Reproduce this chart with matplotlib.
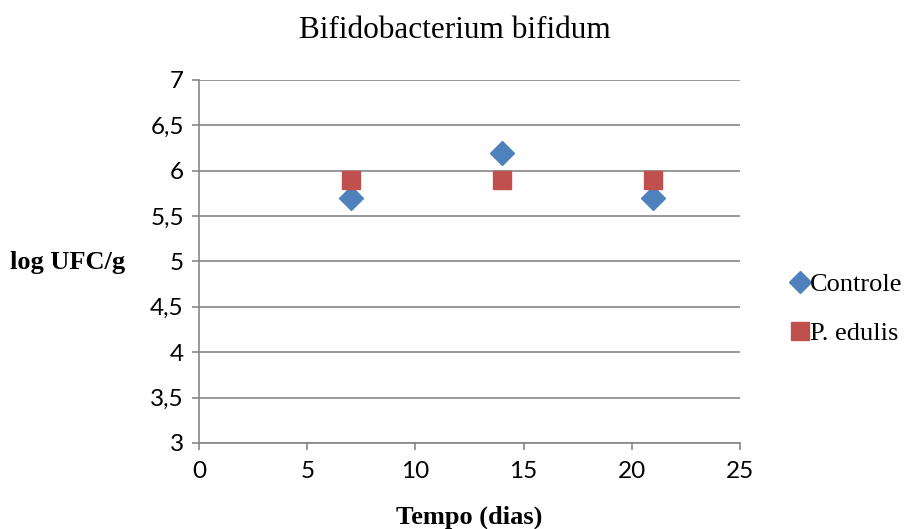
import matplotlib.pyplot as plt

# data
dias = [7, 14, 21]
controle = [5.7, 6.2, 5.7]
p_edulis = [5.9, 5.9, 5.9]

x_ticks = [0, 5, 10, 15, 20, 25]
y_ticks = [3, 3.5, 4, 4.5, 5, 5.5, 6, 6.5, 7]
y_labels = ['3', '3,5', '4', '4,5', '5', '5,5', '6', '6,5', '7']

fig = plt.figure(figsize=(9.09, 5.29), dpi=100)
ax = fig.add_axes([0.219, 0.1626, 0.595, 0.6864])

ax.plot(dias, controle, linestyle='none', marker='D', markersize=12,
        color='#4F81BD', label='Controle', zorder=3)
ax.plot(dias, p_edulis, linestyle='none', marker='s', markersize=13,
        color='#C0504D', label='P. edulis', zorder=3)

ax.set_xlim(0, 25)
ax.set_ylim(3, 7)
ax.set_xticks(x_ticks)
ax.set_yticks(y_ticks)
ax.set_yticklabels(y_labels)
ax.grid(axis='y', color='#868686', linewidth=1.2)
ax.set_axisbelow(True)

for side in ['top', 'right']:
    ax.spines[side].set_visible(False)
for side in ['left', 'bottom']:
    ax.spines[side].set_color('#868686')
    ax.spines[side].set_linewidth(1.2)

ax.tick_params(axis='both', direction='out', length=5, width=1.2,
               color='#868686', labelsize=17.5)
ax.tick_params(axis='x', pad=8)
ax.tick_params(axis='y', pad=6)
for lbl in ax.get_xticklabels() + ax.get_yticklabels():
    lbl.set_fontfamily('Lato')

serif = 'Liberation Serif'
fig.text(0.5, 1 - 31 / 529, 'Bifidobacterium bifidum', ha='center', va='center',
         fontsize=22.5, family=serif)
fig.text(68 / 909, 1 - 263 / 529, 'log UFC/g', ha='center', va='center',
         fontsize=19, fontweight='bold', family=serif)
fig.text(469 / 909, 1 - 517 / 529, 'Tempo (dias)', ha='center', va='center',
         fontsize=19, fontweight='bold', family=serif)

leg = fig.legend(loc='center left', bbox_to_anchor=(793 / 909, 1 - 309 / 529),
                 frameon=False, prop={'family': serif, 'size': 19},
                 handlelength=0.55, handletextpad=0.1, labelspacing=0.95,
                 markerscale=0.95, borderaxespad=0, borderpad=0)

fig.savefig('out.png', dpi=100)
